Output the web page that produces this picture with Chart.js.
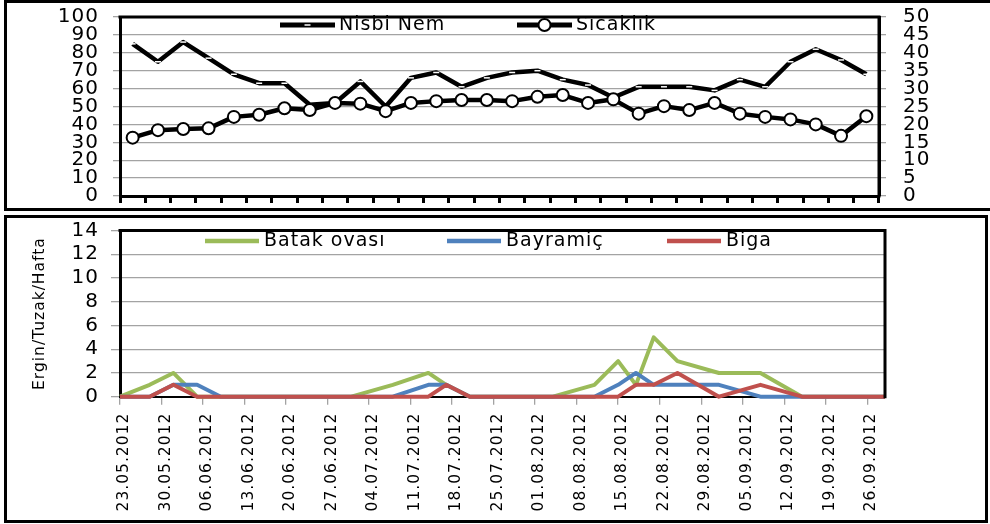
<!DOCTYPE html>
<html lang="tr">
<head>
<meta charset="utf-8">
<title>Nisbi nem, sıcaklık ve ergin yakalama</title>
<script src="https://cdn.jsdelivr.net/npm/chart.js@4.4.1/dist/chart.umd.min.js"></script>
<style>
  html, body { margin: 0; padding: 0; background: #fff; }
  body { position: relative; width: 990px; height: 524px; overflow: hidden; }
  .panel { position: absolute; box-sizing: border-box; border: 3px solid #000; }
  #panelTop { left: 4px; top: 0; width: 986px; height: 211px; border-right: none; }
  #panelBottom { left: 4px; top: 215px; width: 984px; height: 308px; }
  canvas { position: absolute; left: 0; }
  #climateChart { top: 0; }
  #trapChart { top: 214px; }
</style>
</head>
<body>
<div class="panel" id="panelTop"></div>
<div class="panel" id="panelBottom"></div>
<canvas id="climateChart" width="990" height="210"></canvas>
<canvas id="trapChart" width="990" height="310"></canvas>
<script>
// --- İklim verileri (30 ölçüm) ---
const measurementNo = ['1', '2', '3', '4', '5', '6', '7', '8', '9', '10',
  '11', '12', '13', '14', '15', '16', '17', '18', '19', '20',
  '21', '22', '23', '24', '25', '26', '27', '28', '29', '30'];
const relativeHumidity = [85, 75, 86, 77, 68, 63, 63, 51, 52, 64,
  50, 66, 69, 61, 66, 69, 70, 65, 62, 55,
  61, 61, 61, 59, 65, 61, 75, 82, 76, 68];
const temperature = [16.3, 18.4, 18.7, 18.9, 22.1, 22.7, 24.5, 24.0, 26.0, 25.8,
  23.7, 26.0, 26.5, 26.8, 26.8, 26.5, 27.7, 28.2, 26.0, 27.0,
  23.0, 25.1, 24.0, 26.0, 23.0, 22.1, 21.4, 20.0, 16.8, 22.3];

// --- Tuzak sayımları (ergin/tuzak/hafta) ---
const sampleDates = ['23.05.2012', '28.05.2012', '01.06.2012', '05.06.2012', '09.06.2012',
  '01.07.2012', '08.07.2012', '14.07.2012', '17.07.2012', '21.07.2012',
  '04.08.2012', '11.08.2012', '15.08.2012', '18.08.2012', '21.08.2012',
  '25.08.2012', '01.09.2012', '08.09.2012', '15.09.2012', '29.09.2012'];
const batakOvasi = [0, 1, 2, 0, 0, 0, 1, 2, 1, 0, 0, 1, 3, 1, 5, 3, 2, 2, 0, 0];
const bayramic   = [0, 0, 1, 1, 0, 0, 0, 1, 1, 0, 0, 0, 1, 2, 1, 1, 1, 0, 0, 0];
const biga       = [0, 0, 1, 0, 0, 0, 0, 0, 1, 0, 0, 0, 0, 1, 1, 2, 0, 1, 0, 0];

// Haftalık eksen etiketleri
const weekLabels = ['23.05.2012', '30.05.2012', '06.06.2012', '13.06.2012', '20.06.2012',
  '27.06.2012', '04.07.2012', '11.07.2012', '18.07.2012', '25.07.2012',
  '01.08.2012', '08.08.2012', '15.08.2012', '22.08.2012', '29.08.2012',
  '05.09.2012', '12.09.2012', '19.09.2012', '26.09.2012'];
const axisEndDate = '29.09.2012';

// gün sayısı (ilk etiketten itibaren)
function toUTC(s) {
  const [d, m, y] = s.split('.').map(Number);
  return Date.UTC(y, m - 1, d);
}
const dayOf = s => Math.round((toUTC(s) - toUTC(weekLabels[0])) / 864e5);
const series = vals => sampleDates.map((s, i) => ({ x: dayOf(s), y: vals[i] }));

Chart.defaults.font.family = "'DejaVu Sans', sans-serif";
Chart.defaults.color = '#000';

const GRID = '#a3a3a3';

// biraz geniş harf aralığı
const textSpacing = {
  id: 'textSpacing',
  beforeLayout(chart) { chart.ctx.letterSpacing = '1px'; },
  beforeDraw(chart) { chart.ctx.letterSpacing = '1px'; }
};

// çizim alanının üst ve sağ çerçevesi
const plotFrame = {
  id: 'plotFrame',
  afterDatasetsDraw(chart) {
    const { ctx, chartArea: a } = chart;
    ctx.save();
    ctx.strokeStyle = '#000';
    ctx.lineWidth = 3;
    ctx.lineCap = 'square';
    ctx.beginPath();
    ctx.moveTo(a.left, a.top);
    ctx.lineTo(a.right, a.top);
    ctx.lineTo(a.right, a.bottom);
    ctx.stroke();
    ctx.restore();
  }
};

// çizim alanı içindeki açıklama (çizgi örneği + işaret + metin)
const lineLegend = {
  id: 'lineLegend',
  afterDraw(chart, args, opts) {
    const ctx = chart.ctx;
    ctx.save();
    ctx.letterSpacing = '1px';
    ctx.font = opts.font;
    ctx.textBaseline = 'middle';
    ctx.textAlign = 'left';
    chart.data.datasets.forEach((ds, i) => {
      const x = opts.starts[i];
      const y = opts.y;
      ctx.strokeStyle = ds.borderColor;
      ctx.lineWidth = opts.lineWidth;
      ctx.lineCap = 'butt';
      ctx.beginPath();
      ctx.moveTo(x, y);
      ctx.lineTo(x + opts.sample, y);
      ctx.stroke();
      const cx = x + opts.sample / 2;
      if (ds.pointStyle === 'circle') {
        ctx.beginPath();
        ctx.arc(cx, y, ds.pointRadius, 0, Math.PI * 2);
        ctx.fillStyle = ds.pointBackgroundColor;
        ctx.fill();
        ctx.lineWidth = ds.pointBorderWidth;
        ctx.strokeStyle = ds.pointBorderColor;
        ctx.stroke();
      } else if (ds.pointStyle === 'line') {
        ctx.beginPath();
        ctx.moveTo(cx - ds.pointRadius, y);
        ctx.lineTo(cx + ds.pointRadius, y);
        ctx.lineWidth = ds.pointBorderWidth;
        ctx.strokeStyle = ds.pointBorderColor;
        ctx.stroke();
      }
      ctx.fillStyle = '#000';
      ctx.fillText(ds.label, x + opts.sample + opts.gap, y);
    });
    ctx.restore();
  }
};

// sabit eksen genişliği; etiket taşması çizim alanını kaydırmasın
const fixWidth = w => s => { s.width = w; s.paddingTop = 0; s.paddingBottom = 0; };

const common = {
  responsive: false,
  animation: false,
  events: [],
  plugins: { legend: { display: false }, tooltip: { enabled: false } }
};

// ---------- Üst grafik: Nisbi Nem & Sıcaklık ----------
new Chart(document.getElementById('climateChart'), {
  type: 'line',
  data: {
    labels: measurementNo,
    datasets: [
      {
        label: 'Nisbi Nem',
        data: relativeHumidity,
        yAxisID: 'y',
        order: 1,
        borderColor: '#000',
        borderWidth: 4.5,
        borderJoinStyle: 'round',
        tension: 0,
        pointStyle: 'line',
        pointRadius: 3,
        pointBorderColor: '#fff',
        pointBorderWidth: 1.5,
        pointBackgroundColor: '#fff',
        clip: false
      },
      {
        label: 'Sıcaklık',
        data: temperature,
        yAxisID: 'y1',
        order: 0,
        borderColor: '#000',
        borderWidth: 4.5,
        borderJoinStyle: 'round',
        tension: 0,
        pointStyle: 'circle',
        pointRadius: 6,
        pointBorderColor: '#000',
        pointBorderWidth: 2,
        pointBackgroundColor: '#fff',
        clip: false
      }
    ]
  },
  options: {
    ...common,
    layout: { padding: { top: 17, left: 0, right: 0, bottom: 0 } },
    plugins: {
      ...common.plugins,
      lineLegend: { starts: [280, 517], y: 25, sample: 55, gap: 4, lineWidth: 5, font: "19px 'DejaVu Sans'" }
    },
    scales: {
      x: {
        type: 'category',
        offset: true,
        grid: { offset: true, drawOnChartArea: false, drawTicks: true, tickLength: 7, tickColor: '#000', tickWidth: 3 },
        border: { color: '#000', width: 3 },
        ticks: { display: false },
        afterFit(s) { s.height = 14; }
      },
      y: {
        position: 'left',
        min: 0, max: 100,
        grid: { color: GRID, lineWidth: 1.3, tickLength: 7, tickColor: GRID },
        border: { color: '#000', width: 3 },
        ticks: { stepSize: 10, autoSkip: false, padding: 14, font: { size: 20 } },
        afterFit: fixWidth(120)
      },
      y1: {
        position: 'right',
        min: 0, max: 50,
        grid: { drawOnChartArea: false, tickLength: 7, tickColor: GRID, lineWidth: 1.3 },
        border: { color: '#000', width: 3 },
        ticks: { stepSize: 5, autoSkip: false, padding: 17, font: { size: 20 } },
        afterFit: fixWidth(111)
      }
    }
  },
  plugins: [textSpacing, plotFrame, lineLegend]
});

// ---------- Alt grafik: Ergin/Tuzak/Hafta ----------
new Chart(document.getElementById('trapChart'), {
  type: 'line',
  data: {
    datasets: [
      { label: 'Batak ovası', data: series(batakOvasi), borderColor: '#9bbb59', order: 2 },
      { label: 'Bayramiç', data: series(bayramic), borderColor: '#4f81bd', order: 1 },
      { label: 'Biga', data: series(biga), borderColor: '#c0504d', order: 0 }
    ].map(d => Object.assign({
      borderWidth: 4,
      borderJoinStyle: 'round',
      tension: 0,
      pointRadius: 0,
      clip: false
    }, d))
  },
  options: {
    ...common,
    layout: { padding: { top: 16.5, left: 0, right: 105, bottom: 0 } },
    plugins: {
      ...common.plugins,
      lineLegend: { starts: [205, 447, 667], y: 27, sample: 54, gap: 5, lineWidth: 4.5, font: "19px 'DejaVu Sans'" }
    },
    scales: {
      x: {
        type: 'linear',
        min: 0,
        max: dayOf(axisEndDate),
        afterBuildTicks(s) { s.ticks = weekLabels.map(l => ({ value: dayOf(l) })); },
        grid: { drawOnChartArea: false, tickLength: 8, tickColor: GRID, lineWidth: 1.3 },
        border: { color: '#000', width: 2 },
        ticks: {
          autoSkip: false,
          minRotation: 90,
          maxRotation: 90,
          padding: 8,
          labelOffset: 4,
          font: { size: 15.5 },
          callback: (v, i) => weekLabels[i]
        },
        afterFit(s) { s.height = 127.3; s.paddingLeft = 0; s.paddingRight = 0; }
      },
      y: {
        min: 0, max: 14,
        grid: { color: GRID, lineWidth: 1.3, tickLength: 9, tickColor: GRID },
        border: { color: '#000', width: 3 },
        ticks: { stepSize: 2, autoSkip: false, padding: 12, font: { size: 20 } },
        title: {
          display: true,
          text: 'Ergin/Tuzak/Hafta',
          font: { size: 15.5 },
          padding: { top: 31, bottom: 0 }
        },
        afterFit: fixWidth(120)
      }
    }
  },
  plugins: [textSpacing, plotFrame, lineLegend]
});
</script>
</body>
</html>
